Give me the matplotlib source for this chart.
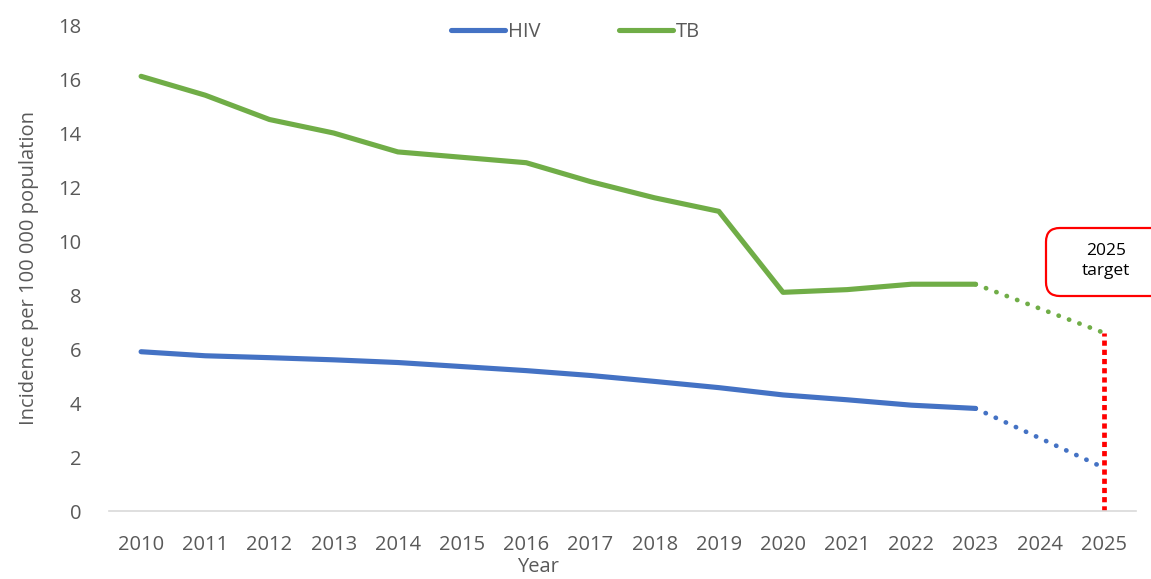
import matplotlib.pyplot as plt
from matplotlib.patches import FancyBboxPatch
import numpy as np

years = ['2010', '2011', '2012', '2013', '2014', '2015', '2016', '2017',
         '2018', '2019', '2020', '2021', '2022', '2023', '2024', '2025']
hiv = [5.9, 5.75, 5.68, 5.6, 5.5, 5.35, 5.2, 5.02, 4.8, 4.57, 4.3, 4.12, 3.92, 3.8]
tb = [16.1, 15.4, 14.5, 14.0, 13.3, 13.1, 12.9, 12.2, 11.6, 11.1, 8.1, 8.2, 8.4, 8.4]
hiv_target = 1.6
tb_target = 6.6

blue = '#4472C4'
green = '#70AD47'
grey = '#595959'

plt.rcParams['font.family'] = ['Open Sans', 'DejaVu Sans']

W, H = 1151, 579
fig = plt.figure(figsize=(W / 100, H / 100), dpi=100)
ax = fig.add_axes([0.0947, 0.1174, 0.8923, 0.8394])

x = np.arange(len(years))
n = len(hiv)
ax.plot(x[:n], hiv, color=blue, lw=3.7, solid_capstyle='round', label='HIV')
ax.plot(x[:n], tb, color=green, lw=3.7, solid_capstyle='round', label='TB')

# projections to 2025
ax.plot([x[n - 1], x[-1]], [hiv[-1], hiv_target], color=blue, lw=3.4,
        linestyle=(0, (0.05, 2.3)), dash_capstyle='round')
ax.plot([x[n - 1], x[-1]], [tb[-1], tb_target], color=green, lw=3.4,
        linestyle=(0, (0.05, 2.3)), dash_capstyle='round')

# target marker
ax.plot([x[-1], x[-1]], [0, tb_target], color='#FF0000', lw=3.4,
        linestyle=(0, (1.1, 0.85)), dash_capstyle='butt')

# callout box (figure pixel coords, runs off the right edge)
bx0, by0, bx1, by1 = 1046, 228, 1175, 296
box = FancyBboxPatch((bx0 / W, 1 - by1 / H), (bx1 - bx0) / W, (by1 - by0) / H,
                     boxstyle='round,pad=0,rounding_size=0.012',
                     mutation_aspect=W / H, transform=fig.transFigure,
                     facecolor='white', edgecolor='#FF0000', lw=1.6)
fig.patches.append(box)
fig.text(1106 / W, 1 - 261 / H, '2025\ntarget', ha='center', va='center',
         fontsize=12.5, color='black', linespacing=1.3)

ax.set_xlim(-0.5, len(years) - 0.5)
ax.set_ylim(0, 18)
ax.set_yticks(np.arange(0, 19, 2))
ax.set_xticks(x)
ax.set_xticklabels(years)
ax.tick_params(axis='both', length=0, labelsize=14.5, colors=grey)
ax.tick_params(axis='x', pad=17)
ax.tick_params(axis='y', pad=20)
for s in ['top', 'right', 'left']:
    ax.spines[s].set_visible(False)
ax.spines['bottom'].set_color('#D9D9D9')
ax.spines['bottom'].set_linewidth(1.2)

ax.set_ylabel('Incidence per 100 000 population', fontsize=14.5, color=grey, labelpad=14)
ax.set_xlabel('Year', fontsize=14.5, color=grey)
ax.xaxis.set_label_coords(0.418, -0.094)

fig.legend(*ax.get_legend_handles_labels(), loc='center',
           bbox_to_anchor=(0.5, 1 - 32 / H), ncol=2, frameon=False,
           fontsize=14.5, handlelength=2.7, columnspacing=3.9, labelcolor=grey,
           handletextpad=0.15)

fig.savefig('out.png', dpi=100)
